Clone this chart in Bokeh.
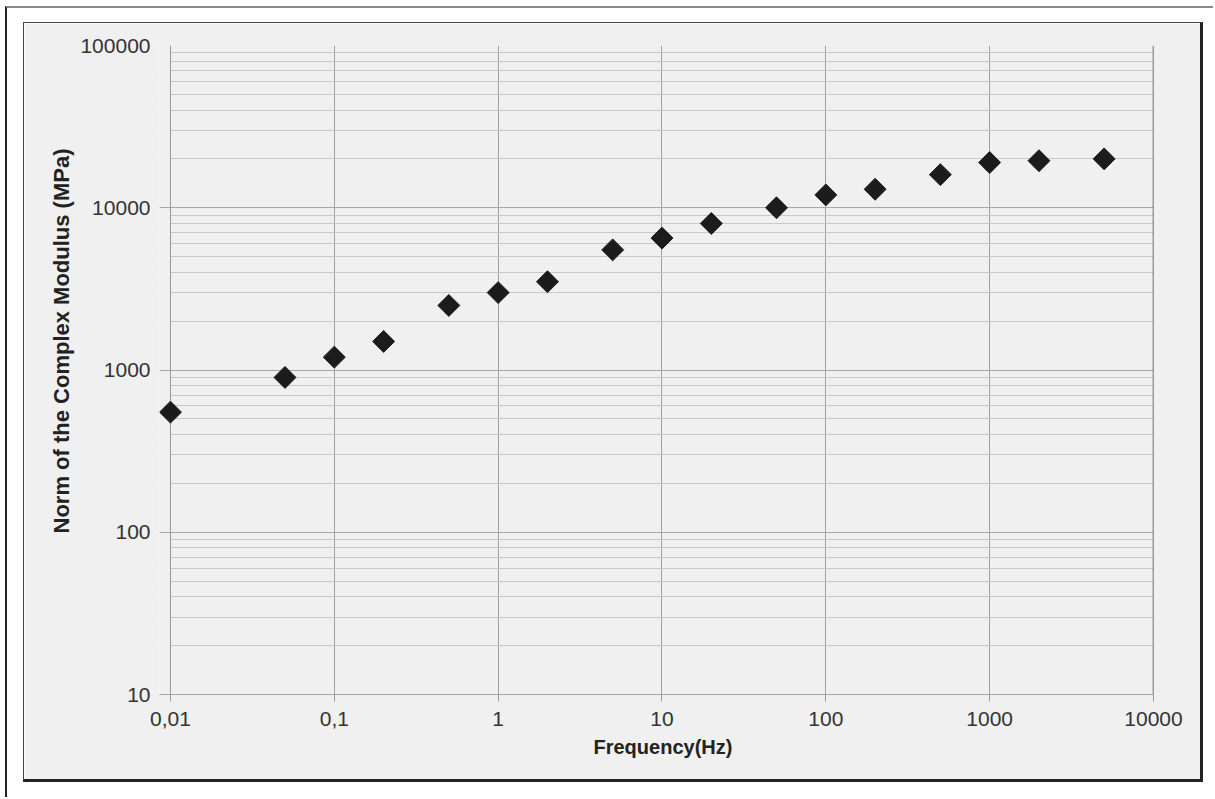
import math
from bokeh.plotting import figure
from bokeh.layouts import column
from bokeh.models import FixedTicker, BoxAnnotation, Span, Grid, Title
from bokeh.embed import file_html
from bokeh.resources import INLINE

# Data
frequency_hz = [0.01, 0.05, 0.1, 0.2, 0.5, 1, 2, 5, 10, 20, 50, 100, 200, 500, 1000, 2000, 5000]
modulus_mpa = [550, 900, 1200, 1500, 2500, 3000, 3500, 5500, 6500, 8000, 10000, 12000, 13000, 16000, 19000, 19500, 20000]

x_ticks = [0.01, 0.1, 1, 10, 100, 1000, 10000]
x_tick_labels = ["0,01", "0,1", "1", "10", "100", "1000", "10000"]
y_ticks = [10, 100, 1000, 10000, 100000]
y_tick_labels = ["10", "100", "1000", "10000", "100000"]
y_minor = [m * d for d in [10, 100, 1000, 10000] for m in range(2, 10)]

FONT = "Liberation Sans"
BG = "#f0f0f0"

PW, PH = 1180, 760
p = figure(width=PW, height=PH, x_axis_type="log", y_axis_type="log",
           x_range=(0.00857, 10000), y_range=(10, 100000),
           output_backend="svg", toolbar_location=None,
           min_border_left=135, min_border_right=51,
           min_border_top=22, min_border_bottom=89)
p.border_fill_color = BG
p.background_fill_color = BG
p.outline_line_color = None
p.styles = {"border-top": "1px solid #444", "border-left": "1px solid #444",
            "border-right": "3px solid #222", "border-bottom": "3px solid #222"}

# axes
p.xaxis.ticker = FixedTicker(ticks=x_ticks)
p.xaxis.major_label_overrides = {t: l for t, l in zip(x_ticks, x_tick_labels)}
p.yaxis.ticker = FixedTicker(ticks=y_ticks)
p.yaxis.major_label_overrides = {t: l for t, l in zip(y_ticks, y_tick_labels)}
for ax in (p.xaxis[0], p.yaxis[0]):
    ax.major_label_text_font = FONT
    ax.major_label_text_font_size = "21px"
    ax.major_label_text_color = "#333333"
    ax.major_tick_in = 0
    ax.minor_tick_line_color = None
p.xaxis.major_tick_out = 7
p.xaxis.major_tick_line_color = "#999999"
p.xaxis.axis_line_color = "#a8a8a8"
p.xaxis.major_label_standoff = 10
p.yaxis.major_tick_out = 0
p.yaxis.axis_line_color = None
p.yaxis.major_label_standoff = 9

p.add_layout(Title(text="Norm of the Complex Modulus (MPa)", align="left", offset=161,
                   standoff=7, text_font=FONT, text_font_style="bold",
                   text_font_size="22px", text_color="#222222"), "left")
p.add_layout(Title(text="Frequency(Hz)", align="left", offset=434,
                   standoff=10, text_font=FONT, text_font_style="bold",
                   text_font_size="20px", text_color="#222222"), "below")

# grids
p.xgrid.ticker = FixedTicker(ticks=x_ticks)
p.xgrid.grid_line_color = "#a0a0a0"
p.ygrid.ticker = FixedTicker(ticks=y_ticks, minor_ticks=y_minor)
p.ygrid.grid_line_color = None
p.ygrid.minor_grid_line_color = "#c8c8c8"
# keep minor lines from running left of the 0,01 axis
p.add_layout(BoxAnnotation(right=0.01, fill_color=BG, fill_alpha=1, line_color=None, level="underlay"))
p.add_layout(Grid(dimension=1, ticker=FixedTicker(ticks=y_ticks), grid_line_color="#a8a8a8"))
p.add_layout(Span(location=0.01, dimension="height", line_color="#999999", line_width=1, level="underlay"))
p.add_layout(Span(location=10000, dimension="height", line_color="#444444", line_width=1.5))

p.scatter(frequency_hz, modulus_mpa, marker="square", angle=math.pi / 4, size=15.5,
          fill_color="#1c1c1c", line_color="#1c1c1c")

page = column(p, styles={"margin-left": "5px", "margin-top": "6px",
                         "border-left": "2px solid #222", "border-top": "2px solid #888",
                         "padding-left": "16px", "padding-top": "14px",
                         "width": "1208px", "height": "791px", "box-sizing": "border-box"})

open("out.html", "w").write(file_html(page, INLINE))
